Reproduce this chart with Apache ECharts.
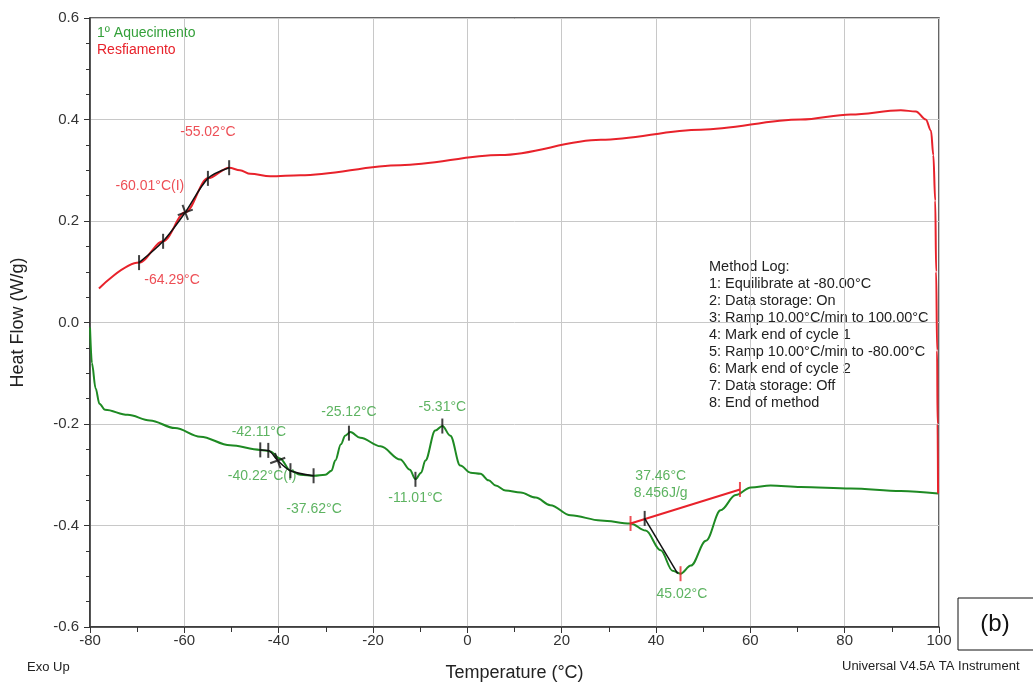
<!DOCTYPE html>
<html>
<head>
<meta charset="utf-8">
<script src="https://cdn.jsdelivr.net/npm/echarts@6/dist/echarts.min.js"></script>
<style>
  html, body { margin: 0; padding: 0; background: #fff; }
  #chart { width: 1033px; height: 687px; }
</style>
</head>
<body>
<div id="chart"></div>
<script>
// 1st heating curve (green), temperature °C / heat flow W/g
var heatT = [-80, -79.6, -78.8, -78, -76.8, -72, -67.3, -62, -56.6, -50.3, -43.9, -41.8, -39.7, -37.5, -35.4, -32.5, -30.1, -28.8, -28, -26.8, -25.9, -24.8, -22.7, -18.4, -14.2, -12.2, -11, -9.8, -8.9, -6.8, -5.3, -3.6, -1.5, 0.7, 2.8, 4.5, 6, 8.1, 11.3, 14.5, 17.6, 21.9, 28.3, 34.6, 37.8, 41, 43.5, 45.2, 47.4, 50.6, 53.7, 56.9, 60.1, 64.3, 70.7, 81.3, 91.9, 99.8];
var heatQ = [-0.01, -0.08, -0.13, -0.16, -0.172, -0.182, -0.193, -0.208, -0.225, -0.242, -0.251, -0.254, -0.268, -0.292, -0.300, -0.302, -0.300, -0.292, -0.272, -0.240, -0.223, -0.216, -0.227, -0.244, -0.270, -0.290, -0.309, -0.296, -0.272, -0.213, -0.204, -0.223, -0.282, -0.296, -0.298, -0.311, -0.321, -0.331, -0.335, -0.345, -0.360, -0.380, -0.390, -0.396, -0.410, -0.449, -0.489, -0.495, -0.479, -0.430, -0.370, -0.340, -0.325, -0.321, -0.324, -0.327, -0.332, -0.337];

// cooling curve (red), from 100 °C down to -78 °C
var coolT = [99.8, 99.7, 99.6, 99.4, 99.2, 98.8, 98.3, 97.2, 95.1, 91.9, 81.3, 70.7, 49.5, 28.3, 7, -14.2, -35.4, -41.8, -46, -48.2, -50.5, -55, -59.8, -64.5, -69.6, -78.1];
var coolQ = [-0.337, -0.2, -0.055, 0.1, 0.24, 0.33, 0.378, 0.400, 0.416, 0.418, 0.410, 0.400, 0.380, 0.360, 0.330, 0.310, 0.290, 0.288, 0.293, 0.300, 0.305, 0.284, 0.217, 0.160, 0.118, 0.067];

// analysis marks
var coolTickT = [-69.6, -64.5, -55, -50.5];
var coolTickQ = [0.118, 0.160, 0.284, 0.305];
var coolCrossT = [-59.8];
var coolCrossQ = [0.217];
var heatTickT = [-43.9, -42.2, -37.5, -32.6, -25.1, -11.0, -5.3];
var heatTickQ = [-0.251, -0.252, -0.292, -0.302, -0.218, -0.309, -0.204];
var heatCrossT = [-40.2];
var heatCrossQ = [-0.272];
var peakBaseT = [34.6, 57.8];
var peakBaseQ = [-0.396, -0.329];
var peakRedTickT = [34.6, 45.2, 57.8];
var peakRedTickQ = [-0.396, -0.495, -0.329];
var onsetT = [37.6, 44.6];
var onsetQ = [-0.386, -0.495];

// annotation texts, anchored in data coordinates
var redLabels = [['-55.02°C', -55, 0.375], ['-60.01°C(I)', -67.3, 0.268], ['-64.29°C', -62.6, 0.084]];
var greenLabels = [['-42.11°C', -44.2, -0.217], ['-40.22°C(I)', -43.5, -0.302], ['-37.62°C', -32.5, -0.367],
  ['-25.12°C', -25.1, -0.176], ['-5.31°C', -5.3, -0.166], ['-11.01°C', -11.0, -0.346],
  ['37.46°C', 41, -0.303], ['8.456J/g', 41, -0.337], ['45.02°C', 45.5, -0.536]];

var xTicks = [-80, 100, 20];
var yTicks = [-0.6, 0.6, 0.2];

var methodLog = ['Method Log:', '1: Equilibrate at -80.00°C', '2: Data storage: On',
  '3: Ramp 10.00°C/min to 100.00°C', '4: Mark end of cycle 1', '5: Ramp 10.00°C/min to -80.00°C',
  '6: Mark end of cycle 2', '7: Data storage: Off', '8: End of method'];

function zip(a, b) {
  var out = [];
  for (var i = 0; i < a.length; i++) out.push([a[i], b[i]]);
  return out;
}
function labelData(list) {
  return list.map(function (l) { return { value: [l[1], l[2]], name: l[0] }; });
}

var FONT = 'Liberation Sans';
var GREEN = '#1e8a23';
var RED = '#e8222b';
var GREEN_TXT = '#34a03a';
var crossPath = 'path://M0,5 L10,5 M5,0 L5,10';

var myChart = echarts.init(document.getElementById('chart'));
var option = {
  animation: false,
  grid: { left: 90, right: 94, top: 18, bottom: 60, show: true, borderColor: '#333', borderWidth: 1.5 },
  xAxis: {
    type: 'value', min: xTicks[0], max: xTicks[1], interval: xTicks[2],
    name: 'Temperature (°C)', nameLocation: 'middle', nameGap: 37,
    nameTextStyle: { fontFamily: FONT, fontSize: 18, color: '#222' },
    axisLine: { onZero: false, lineStyle: { color: '#333', width: 1.5 } },
    axisTick: { show: true, length: 6, lineStyle: { color: '#333' } },
    minorTick: { show: true, splitNumber: 2, length: 5, lineStyle: { color: '#333' } },
    axisLabel: { fontFamily: FONT, fontSize: 15, color: '#333', margin: 6 },
    splitLine: { show: true, lineStyle: { color: '#c8c8c8', width: 1 } }
  },
  yAxis: {
    type: 'value', min: yTicks[0], max: yTicks[1], interval: yTicks[2],
    name: 'Heat Flow (W/g)', nameLocation: 'middle', nameGap: 63,
    nameTextStyle: { fontFamily: FONT, fontSize: 18, color: '#222' },
    axisLine: { show: true, onZero: false, lineStyle: { color: '#333', width: 1.5 } },
    axisTick: { show: true, length: 6, lineStyle: { color: '#333' } },
    minorTick: { show: true, splitNumber: 4, length: 4, lineStyle: { color: '#333' } },
    axisLabel: { fontFamily: FONT, fontSize: 15, color: '#333', margin: 11,
      formatter: function (v) { return v.toFixed(1); } },
    splitLine: { show: true, lineStyle: { color: '#c8c8c8', width: 1 } }
  },
  series: [
    { name: '1º Aquecimento', type: 'line', data: zip(heatT, heatQ), showSymbol: false,
      smooth: 0.35, smoothMonotone: 'x', lineStyle: { color: GREEN, width: 2 }, z: 2 },
    { name: 'Resfiamento', type: 'line', data: zip(coolT, coolQ), showSymbol: false,
      smooth: 0.35, smoothMonotone: 'x', lineStyle: { color: RED, width: 2 }, z: 2 },
    // black analysis overlays
    { type: 'line', data: zip(coolTickT.slice(0, 2).concat(coolCrossT, coolTickT.slice(2)),
        coolTickQ.slice(0, 2).concat(coolCrossQ, coolTickQ.slice(2))),
      showSymbol: false, smooth: 0.3, lineStyle: { color: '#111', width: 1.5 }, z: 3 },
    { type: 'line', data: zip(heatTickT.slice(0, 2).concat(heatCrossT, heatTickT.slice(2, 4)),
        heatTickQ.slice(0, 2).concat(heatCrossQ, heatTickQ.slice(2, 4))),
      showSymbol: false, smooth: 0.3, lineStyle: { color: '#111', width: 1.5 }, z: 3 },
    { type: 'line', data: zip(peakBaseT, peakBaseQ), showSymbol: false,
      lineStyle: { color: RED, width: 2 }, z: 3 },
    { type: 'line', data: zip(onsetT, onsetQ), showSymbol: false,
      lineStyle: { color: '#111', width: 1.5 }, z: 3 },
    { type: 'scatter', data: zip(coolTickT, coolTickQ).concat(zip(heatTickT, heatTickQ), [[onsetT[0], onsetQ[0]]]),
      symbol: 'rect', symbolSize: [2, 15], itemStyle: { color: '#111' }, z: 4 },
    { type: 'scatter', data: zip(coolCrossT, coolCrossQ).concat(zip(heatCrossT, heatCrossQ)),
      symbol: crossPath, symbolSize: 16, symbolRotate: 20,
      itemStyle: { color: 'none', borderColor: '#111', borderWidth: 2 }, z: 4 },
    { type: 'scatter', data: zip(peakRedTickT, peakRedTickQ),
      symbol: 'rect', symbolSize: [2, 15], itemStyle: { color: RED }, z: 4 },
    // annotation labels
    { type: 'scatter', data: labelData(redLabels), symbolSize: 0, silent: true,
      label: { show: true, position: 'inside', formatter: '{b}', fontFamily: FONT, fontSize: 14, color: RED } },
    { type: 'scatter', data: labelData(greenLabels), symbolSize: 0, silent: true,
      label: { show: true, position: 'inside', formatter: '{b}', fontFamily: FONT, fontSize: 14, color: GREEN_TXT } }
  ],
  graphic: [
    { type: 'text', left: 97, top: 26, style: { text: '1º Aquecimento', font: '14px "Liberation Sans"', fill: GREEN_TXT } },
    { type: 'text', left: 97, top: 43, style: { text: 'Resfiamento', font: '14px "Liberation Sans"', fill: RED } },
    { type: 'text', left: 709, top: 258, style: { text: methodLog.join('\n'), font: '14.5px "Liberation Sans"',
      fill: '#222', lineHeight: 17 } },
    { type: 'text', left: 27, top: 661, style: { text: 'Exo Up', font: '13px "Liberation Sans"', fill: '#222' } },
    { type: 'text', left: 842, top: 660, style: { text: 'Universal V4.5A TA Instrument', font: '13px "Liberation Sans"', fill: '#222' } },
    { type: 'rect', shape: { x: 958, y: 598, width: 80, height: 52 }, style: { fill: '#fff', stroke: '#111', lineWidth: 1 } },
    { type: 'text', x: 995, y: 624, style: { text: '(b)', font: '24px "Liberation Sans"', fill: '#111',
      align: 'center', verticalAlign: 'middle' } }
  ]
};
myChart.setOption(option);
</script>
</body>
</html>
